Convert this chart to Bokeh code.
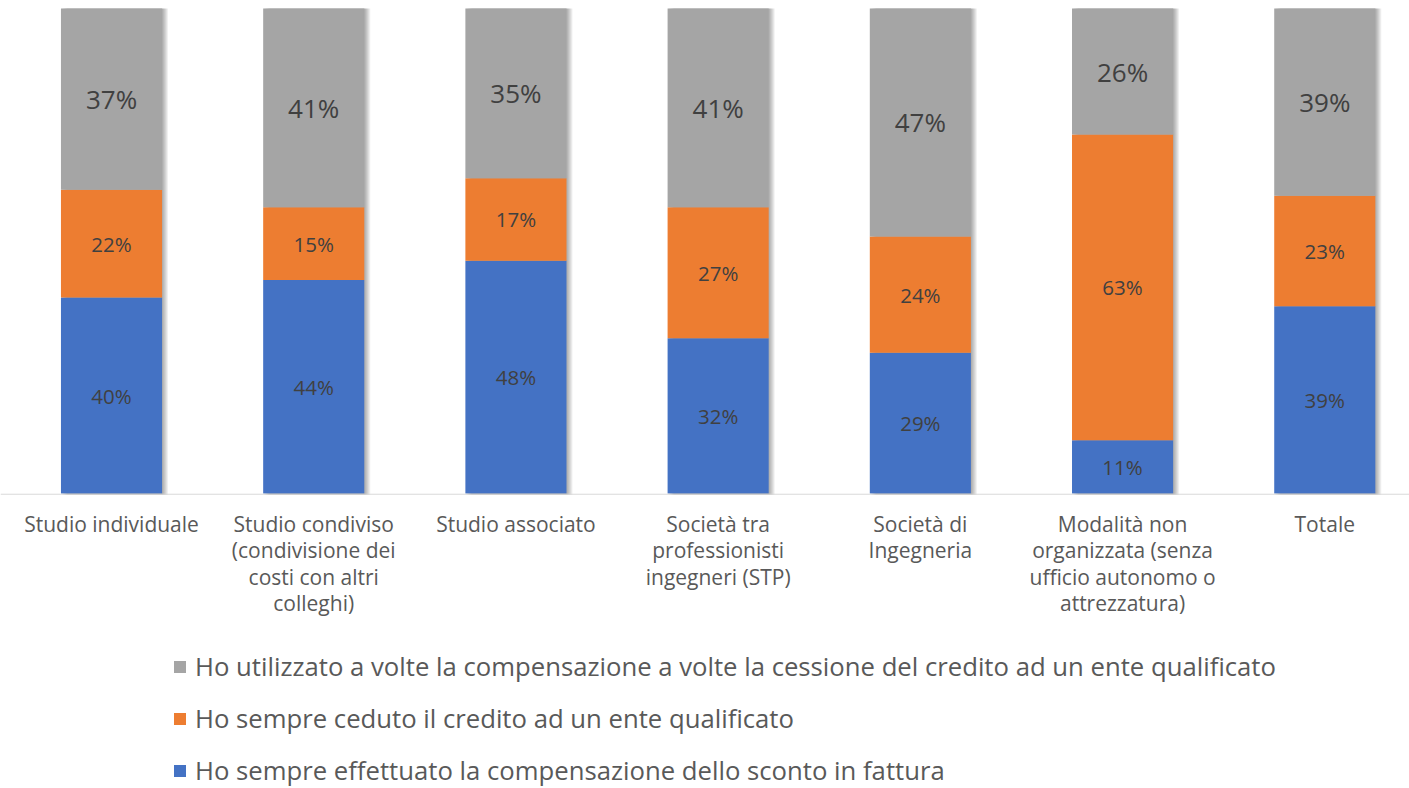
from bokeh.plotting import figure
from bokeh.models import ColumnDataSource, Range1d, Span, Legend, LegendItem
from bokeh.core.properties import value
from bokeh.transform import dodge
from bokeh.embed import file_html
from bokeh.resources import INLINE

categories = [
    "Studio individuale",
    "Studio condiviso\n(condivisione dei\ncosti con altri\ncolleghi)",
    "Studio associato",
    "Società tra\nprofessionisti\ningegneri (STP)",
    "Società di\nIngegneria",
    "Modalità non\norganizzata (senza\nufficio autonomo o\nattrezzatura)",
    "Totale",
]
blue_vals = [40, 44, 48, 32, 29, 11, 39]
orange_vals = [22, 15, 17, 27, 24, 63, 23]
gray_vals = [37, 41, 35, 41, 47, 26, 39]
series_names = [
    "Ho sempre effettuato la compensazione dello sconto in fattura",
    "Ho sempre ceduto il credito ad un ente qualificato",
    "Ho utilizzato a volte la compensazione a volte la cessione del credito ad un ente qualificato",
]
colors = ["#4472C4", "#ED7D31", "#A5A5A5"]

FONT = "Open Sans"
xs = list(range(len(categories)))
totals = [b + o + g for b, o, g in zip(blue_vals, orange_vals, gray_vals)]
blue_s = [100 * b / t for b, t in zip(blue_vals, totals)]
orange_s = [100 * o / t for o, t in zip(orange_vals, totals)]
gray_s = [100 * g / t for g, t in zip(gray_vals, totals)]
b0 = [0] * len(xs)
b1 = blue_s
b2 = [a + b for a, b in zip(blue_s, orange_s)]
b3 = [a + b for a, b in zip(b2, gray_s)]

src = ColumnDataSource(dict(
    x=xs, cat=categories,
    b0=b0, b1=b1, b2=b2, b3=b3,
    yb=[(a + b) / 2 for a, b in zip(b0, b1)],
    yo=[(a + b) / 2 for a, b in zip(b1, b2)],
    yg=[(a + b) / 2 for a, b in zip(b2, b3)],
    lb=[f"{v}%" for v in blue_vals],
    lo=[f"{v}%" for v in orange_vals],
    lg=[f"{v}%" for v in gray_vals],
    zero=[0] * len(xs),
))

W, H = 1409, 788
p = figure(width=W, height=H, output_backend="svg", toolbar_location=None,
           x_range=Range1d(-0.549, 6.419), y_range=Range1d(-60.82, 101.65),
           min_border=0, min_border_left=0, min_border_right=0,
           min_border_top=0, min_border_bottom=0)
p.axis.visible = False
p.grid.visible = False
p.outline_line_color = None
p.background_fill_color = "white"

# soft shadow to the right of bars
px = 1 / 202.2
for k in range(1, 7):
    p.vbar(x=dodge("x", k * px, range=p.x_range), top="b3", bottom=-0.3, width=0.5,
           source=src, fill_color="black", fill_alpha=0.06, line_color=None)

axis_line = Span(location=-0.15, dimension="width", line_color="#D9D9D9", line_width=1)
p.add_layout(axis_line)

rb = p.vbar(x="x", bottom="b0", top="b1", width=0.5, source=src, fill_color=colors[0], line_color=None)
ro = p.vbar(x="x", bottom="b1", top="b2", width=0.5, source=src, fill_color=colors[1], line_color=None)
rg = p.vbar(x="x", bottom="b2", top="b3", width=0.5, source=src, fill_color=colors[2], line_color=None)

p.text(x="x", y="yb", text="lb", source=src, text_align="center", text_baseline="middle",
       text_font=value(FONT), text_font_size="20.5px", text_color="#404040")
p.text(x="x", y="yo", text="lo", source=src, text_align="center", text_baseline="middle",
       text_font=value(FONT), text_font_size="20.5px", text_color="#404040")
p.text(x="x", y="yg", text="lg", source=src, text_align="center", text_baseline="middle",
       text_font=value(FONT), text_font_size="26px", text_color="#404040")

p.text(x="x", y="zero", text="cat", source=src, text_align="center", text_baseline="top",
       y_offset=16, text_line_height=0.95,
       text_font=value(FONT), text_font_size="21px", text_color="#595959")

legend = Legend(items=[
    LegendItem(label=series_names[2], renderers=[rg]),
    LegendItem(label=series_names[1], renderers=[ro]),
    LegendItem(label=series_names[0], renderers=[rb]),
], location=(172, 0), orientation="vertical",
    glyph_width=15, glyph_height=15, label_standoff=8,
    label_text_font=FONT, label_text_font_size="25.7px", label_text_color="#595959",
    label_height=25, spacing=17, padding=0, margin=0,
    border_line_alpha=0, background_fill_alpha=0)
p.add_layout(legend)

open("out.html", "w").write(file_html(p, INLINE))
